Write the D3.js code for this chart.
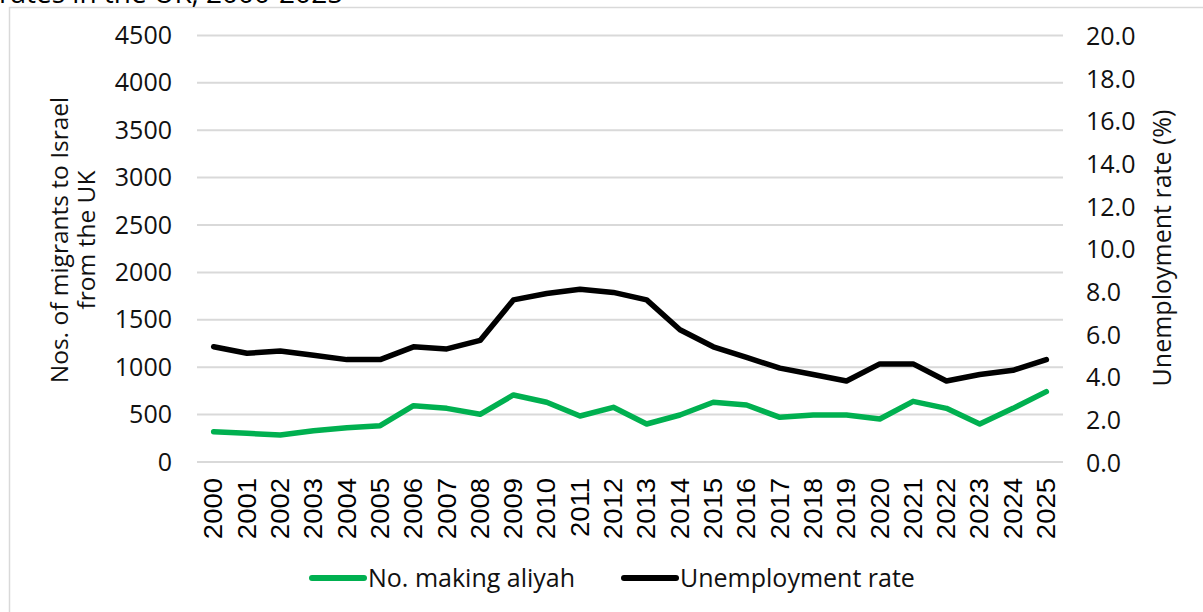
<!DOCTYPE html>
<html>
<head>
<meta charset="utf-8">
<script src="https://cdn.jsdelivr.net/npm/d3@7"></script>
<style>
  html, body { margin: 0; padding: 0; background: #fff; }
  svg { display: block; font-family: "Open Sans", "Noto Sans", sans-serif; }
</style>
</head>
<body>
<svg id="chart" width="1203" height="612"></svg>
<script>
// Years on the category axis
const years = ["2000","2001","2002","2003","2004","2005","2006","2007","2008","2009",
  "2010","2011","2012","2013","2014","2015","2016","2017","2018","2019",
  "2020","2021","2022","2023","2024","2025"];

// Number of people making aliyah from the UK each year (left axis)
const aliyah = [320, 302, 285, 330, 362, 383, 594, 566, 503, 707,
  630, 485, 577, 401, 496, 630, 601, 471, 496, 496,
  454, 640, 566, 401, 566, 742];

// UK unemployment rate, % (right axis)
const unemployment = [5.4, 5.1, 5.2, 5.0, 4.8, 4.8, 5.4, 5.3, 5.7, 7.6,
  7.9, 8.1, 7.95, 7.6, 6.2, 5.4, 4.9, 4.4, 4.1, 3.8,
  4.6, 4.6, 3.8, 4.1, 4.3, 4.8];

// Axis ticks
const leftTicks = [0, 500, 1000, 1500, 2000, 2500, 3000, 3500, 4000, 4500];
const rightTicks = [0, 2, 4, 6, 8, 10, 12, 14, 16, 18, 20];

const svg = d3.select("#chart");

// Outer frame of the chart object
svg.append("rect")
  .attr("x", 9.5).attr("y", 7.5)
  .attr("width", 1260).attr("height", 700)
  .attr("fill", "#fff")
  .attr("stroke", "#d9d9d9").attr("stroke-width", 1.5);

// Title, running off the top edge
svg.append("text")
  .attr("x", -1).attr("y", 3)
  .attr("font-size", 28)
  .attr("fill", "#000")
  .text("rates in the UK, 2000-2025");

const plot = { left: 197, right: 1063, top: 35.4, bottom: 462 };

const x = d3.scaleBand().domain(years).range([plot.left, plot.right]);
const yL = d3.scaleLinear().domain([0, 4500]).range([plot.bottom, plot.top]);
const yR = d3.scaleLinear().domain([0, 20]).range([plot.bottom, plot.top]);
const cx = d => x(d) + x.bandwidth() / 2;

// Horizontal gridlines from the left axis
svg.append("g")
  .selectAll("line")
  .data(leftTicks)
  .join("line")
  .attr("x1", plot.left).attr("x2", plot.right)
  .attr("y1", d => yL(d)).attr("y2", d => yL(d))
  .attr("stroke", "#d9d9d9").attr("stroke-width", 2);

// Left axis labels
const leftAxis = d3.axisLeft(yL).tickValues(leftTicks).tickSize(0).tickPadding(0).tickFormat(d3.format("d"));
svg.append("g")
  .attr("transform", "translate(172,0)")
  .call(leftAxis)
  .call(g => g.select(".domain").remove())
  .call(g => g.selectAll("text")
    .attr("font-family", "Open Sans").attr("font-size", 25).attr("fill", "#111"));

// Right axis labels
const rightAxis = d3.axisRight(yR).tickValues(rightTicks).tickSize(0).tickPadding(0).tickFormat(d3.format(".1f"));
svg.append("g")
  .attr("transform", "translate(1086,1)")
  .call(rightAxis)
  .call(g => g.select(".domain").remove())
  .call(g => g.selectAll("text")
    .attr("font-family", "Open Sans").attr("font-size", 25).attr("fill", "#111"));

// Year labels, rotated
const xAxis = d3.axisBottom(x).tickSize(0).tickPadding(0);
svg.append("g")
  .attr("transform", `translate(0,${plot.bottom})`)
  .call(xAxis)
  .call(g => g.select(".domain").remove())
  .call(g => g.selectAll("text")
    .attr("font-family", "Liberation Sans")
    .attr("font-size", 25)
    .attr("fill", "#000")
    .attr("text-anchor", "end")
    .attr("dy", "0.35em")
    .attr("transform", "translate(0,16) rotate(-90) scale(1.1,1)")
    .attr("x", 0).attr("y", 0));

// Axis titles
const leftTitle = svg.append("text")
  .attr("transform", "translate(72,240) rotate(-90)")
  .attr("text-anchor", "middle")
  .attr("font-size", 24.5)
  .attr("fill", "#111");
leftTitle.append("tspan").attr("x", 0).attr("dy", "-0.15em").text("Nos. of migrants to Israel");
leftTitle.append("tspan").attr("x", 0).attr("dy", "1.1em").text("from the UK");

svg.append("text")
  .attr("transform", "translate(1171,248) rotate(-90)")
  .attr("text-anchor", "middle")
  .attr("font-size", 25)
  .attr("fill", "#111")
  .text("Unemployment rate (%)");

// Series lines
const lineL = d3.line().x((d, i) => cx(years[i])).y(d => yL(d));
const lineR = d3.line().x((d, i) => cx(years[i])).y(d => yR(d));

svg.append("path")
  .datum(aliyah)
  .attr("d", lineL)
  .attr("fill", "none")
  .attr("stroke", "#00b050").attr("stroke-width", 5.5)
  .attr("stroke-linejoin", "round").attr("stroke-linecap", "round");

svg.append("path")
  .datum(unemployment)
  .attr("d", lineR)
  .attr("fill", "none")
  .attr("stroke", "#000").attr("stroke-width", 5.5)
  .attr("stroke-linejoin", "round").attr("stroke-linecap", "round");

// Legend
const legendItems = [
  { label: "No. making aliyah", color: "#00b050", x: 312 },
  { label: "Unemployment rate", color: "#000", x: 624 }
];
const lg = svg.append("g").selectAll("g").data(legendItems).join("g")
  .attr("transform", d => `translate(${d.x},578)`);
lg.append("line")
  .attr("x1", 0).attr("x2", 52).attr("y1", 0).attr("y2", 0)
  .attr("stroke", d => d.color).attr("stroke-width", 6).attr("stroke-linecap", "round");
lg.append("text")
  .attr("x", 56).attr("y", 0).attr("dy", "0.35em")
  .attr("font-size", 25).attr("fill", "#111")
  .text(d => d.label);
</script>
</body>
</html>
